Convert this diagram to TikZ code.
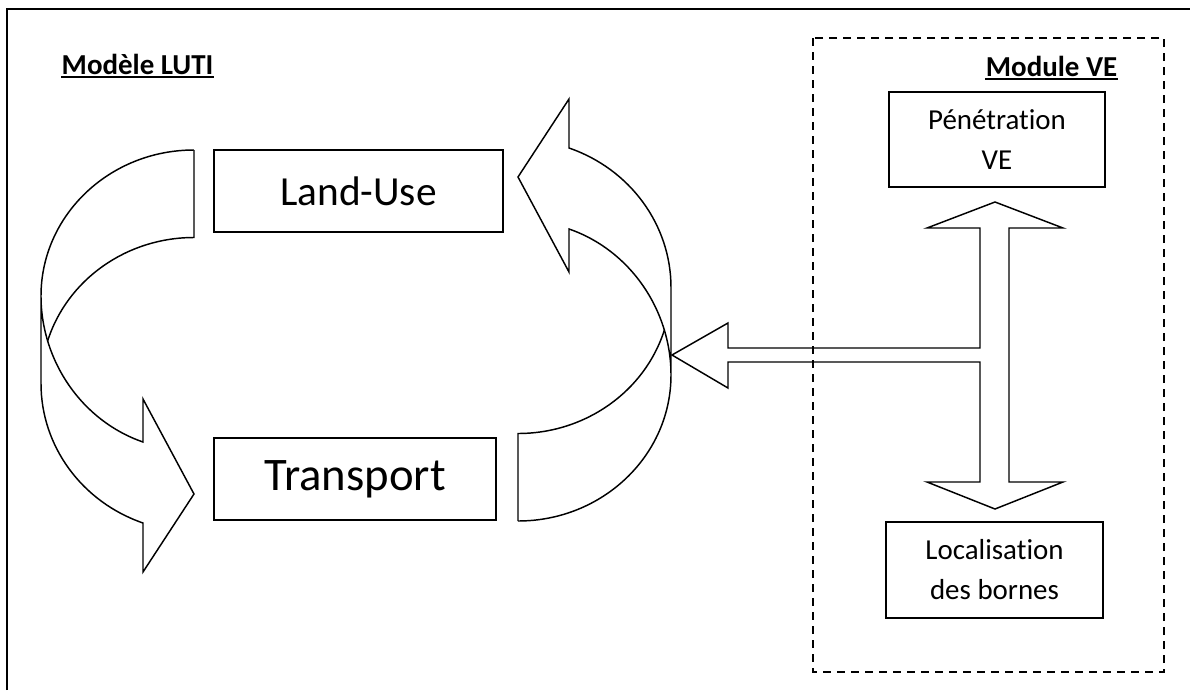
\documentclass[tikz,border=0pt]{standalone}
\usepackage{fontspec}
\setmainfont{Carlito}[Ligatures={NoCommon}]
\usetikzlibrary{calc}

\begin{document}
\begin{tikzpicture}[x=0.75pt,y=0.75pt,yscale=-1,xscale=1,line width=1.1pt,
  box/.style={draw, inner sep=0pt, align=center},
  bigtext/.style={font=\fontsize{#1}{#1}\selectfont},
  smalltext/.style={font=\fontsize{21.7}{30}\selectfont},
  heading/.style={inner sep=0pt, font=\fontsize{21.7}{26}\selectfont\bfseries}]
\useasboundingbox (0,0) rectangle (1190,690);

%Frame
\draw [line width=1.5pt] (7,690) -- (7,9) -- (1190,9) ;
%Dashed module frame
\draw [dash pattern=on 6pt off 4.5pt] (813,38) rectangle (1164,672) ;

% Text Node
\node [heading, anchor=base west] (luti) at (61,74) {Modèle LUTI};
\draw [line width=1.5pt] ($(luti.base west)+(0,3)$) -- ($(luti.base east)+(0,3)$) ;
% Text Node
\node [heading, anchor=base east] (vetitle) at (1118,76) {Module VE};
\draw [line width=1.5pt] ($(vetitle.base west)+(0,3)$) -- ($(vetitle.base east)+(0,3)$) ;

%Boxes
\node [box, bigtext=31, minimum width=216.75pt, minimum height=61.5pt] (landuse) at (358.5,191) {Land-Use};
\node [box, bigtext=35, minimum width=211.5pt, minimum height=61.5pt] (transport) at (355,479) {Transport};
\node [box, smalltext, minimum width=162pt, minimum height=71.25pt] (penetration) at (997,139.5) {Pénétration\\VE};
\node [box, smalltext, minimum width=162.75pt, minimum height=72pt] (localisation) at (994.5,570) {Localisation\\des bornes};

%Shape: Curved Arrows (left one, then the same turned round)
\foreach \ang in {0,180} {
\begin{scope}[rotate around={\ang:(356,335.5)}]
\draw (194,150) .. controls (109.5,150) and (41,215.4) .. (41,296) -- (41,383.5) .. controls (41,446.2) and (82,502) .. (143,523) -- (143,572) -- (194,494) -- (143,399) -- (143,442) .. controls (82,421) and (41,361) .. (41,296) ;
\draw (194,150) -- (194,237.5) .. controls (126.5,237.5) and (66.9,279.7) .. (47.5,341.4) ;
\end{scope}
}

%Shape: Left-Up-Down Arrow
\draw (995,202) -- (1063,228) -- (1009,228) -- (1009,482) -- (1063,482) -- (995,509) -- (927,482) -- (980,482) -- (980,362) -- (728,362) -- (728,388) -- (672,355) -- (728,323) -- (728,348) -- (980,348) -- (980,228) -- (927,228) -- cycle ;

\end{tikzpicture}
\end{document}
